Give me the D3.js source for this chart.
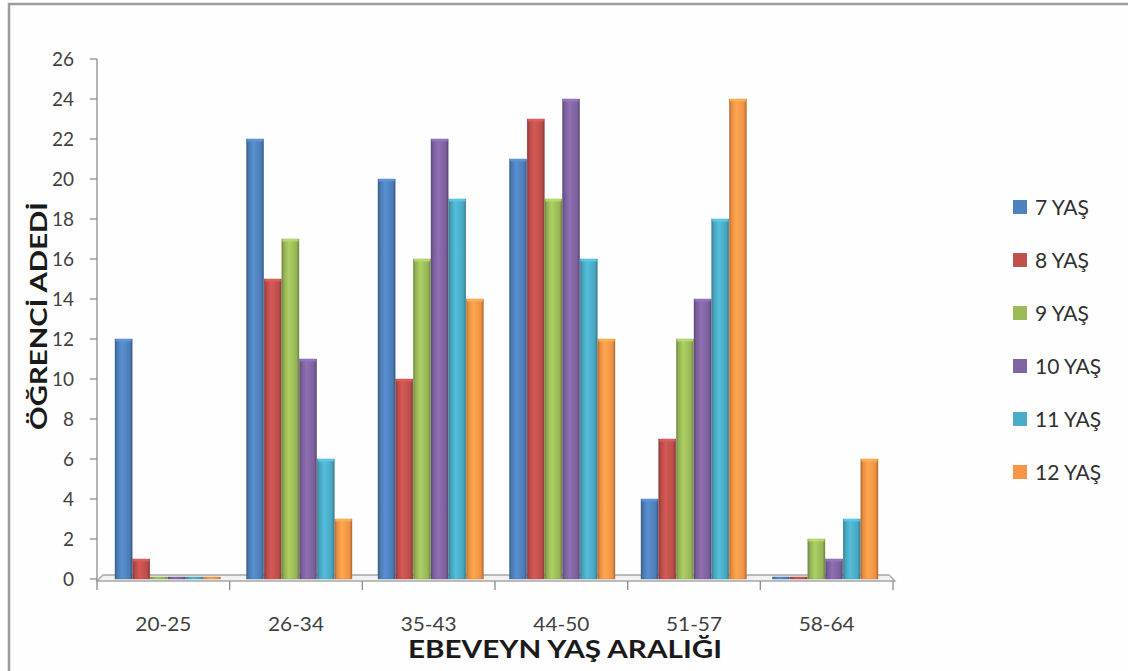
<!DOCTYPE html>
<html><head><meta charset="utf-8">
<script src="https://cdn.jsdelivr.net/npm/d3@7"></script>
<style>html,body{margin:0;padding:0;background:#fff;}svg{display:block;}</style>
</head><body>
<svg id="c" width="1128" height="671"></svg>
<script>
const categories = ["20-25","26-34","35-43","44-50","51-57","58-64"];
const seriesNames = ["7 YAŞ","8 YAŞ","9 YAŞ","10 YAŞ","11 YAŞ","12 YAŞ"];
const s7  = [12, 22, 20, 21, 4, 0];
const s8  = [1, 15, 10, 23, 7, 0];
const s9  = [0, 17, 16, 19, 12, 2];
const s10 = [0, 11, 22, 24, 14, 1];
const s11 = [0, 6, 19, 16, 18, 3];
const s12 = [0, 3, 14, 12, 24, 6];
const yTicks = [0,2,4,6,8,10,12,14,16,18,20,22,24,26];
const colors = ["#4f81bd","#c0504d","#9bbb59","#8064a2","#4bacc6","#f79646"];
const series = [s7,s8,s9,s10,s11,s12];

const svg = d3.select("#c");
const font = "Lato, 'Open Sans', sans-serif";

// outer frame
svg.append("rect").attr("x",9).attr("y",4).attr("width",1130).attr("height",680)
  .attr("fill","#fefefe").attr("stroke","#9c9c9c").attr("stroke-width",2.5);

const x = d3.scaleBand().domain(categories).range([97, 893]);
const xBars = d3.scaleBand().domain(categories).range([115, 115 + 6*131.5]);
const xInner = d3.scaleBand().domain(seriesNames).range([0, 106]);
const y = d3.scaleLinear().domain([0, 26]).range([579, 59]);

// gradients
const defs = svg.append("defs");
colors.forEach((c,i)=>{
  const g = defs.append("linearGradient").attr("id","g"+i).attr("x1","0").attr("x2","1").attr("y1","0").attr("y2","0");
  const base = d3.color(c);
  g.append("stop").attr("offset","0%").attr("stop-color", base.darker(1.0));
  g.append("stop").attr("offset","12%").attr("stop-color", base.darker(0.2));
  g.append("stop").attr("offset","40%").attr("stop-color", base.brighter(0.3));
  g.append("stop").attr("offset","85%").attr("stop-color", base.darker(0.1));
  g.append("stop").attr("offset","100%").attr("stop-color", base.darker(1.0));
});

// floor
const fl = 97, fr = 895, fb = 575, ff = 581;
svg.append("path")
  .attr("d", `M${fl},${ff} L${fl+6},${fb} L${fr-6},${fb} L${fr},${ff} Z`)
  .attr("fill","#f2f2f2").attr("stroke","#a6a6a6").attr("stroke-width",1.3);

// y axis
svg.append("line").attr("x1",97).attr("x2",97).attr("y1",y(26)).attr("y2",ff)
  .attr("stroke","#8c8c8c").attr("stroke-width",1.3);
const yt = svg.append("g");
yTicks.forEach(t=>{
  yt.append("line").attr("x1",90).attr("x2",97).attr("y1",y(t)).attr("y2",y(t))
    .attr("stroke","#8c8c8c").attr("stroke-width",1.3);
  yt.append("text").attr("x",74).attr("y",y(t)).attr("dy","0.36em")
    .attr("text-anchor","end").attr("font-family",font).attr("font-size",19)
    .attr("fill","#404040").text(t);
});

// x axis ticks
const bounds = categories.map(c=>x(c)).concat([x(categories[5])+x.bandwidth()]);
bounds.forEach(b=>{
  svg.append("line").attr("x1",b).attr("x2",b).attr("y1",ff).attr("y2",590)
    .attr("stroke","#8c8c8c").attr("stroke-width",1.3);
});
categories.forEach(c=>{
  svg.append("text").attr("x",x(c)+x.bandwidth()/2).attr("y",631)
    .attr("text-anchor","middle").attr("font-family",font).attr("font-size",20)
    .attr("textLength",56).attr("lengthAdjust","spacingAndGlyphs")
    .attr("fill","#404040").text(c);
});

// bars
series.forEach((s,i)=>{
  const g = svg.append("g");
  s.forEach((v,j)=>{
    const bx = xBars(categories[j]) + xInner(seriesNames[i]);
    const top = Math.min(y(v), y(0)-2);
    const h = y(0) - top;
    g.append("rect").attr("x",bx).attr("y",top).attr("width",xInner.bandwidth()-0.5).attr("height",h)
      .attr("fill","url(#g"+i+")").attr("stroke", d3.color(colors[i]).darker(0.6)).attr("stroke-width",0.4);
    if (v > 0) {
      g.append("rect").attr("x",bx+0.5).attr("y",top).attr("width",xInner.bandwidth()-1.5).attr("height",2.5)
        .attr("fill", d3.color(colors[i]).brighter(0.5)).attr("opacity",0.8);
    }
  });
});

// axis titles
svg.append("text").attr("x",565).attr("y",658).attr("text-anchor","middle")
  .attr("font-family",font).attr("font-weight","bold").attr("font-size",24)
  .attr("textLength",314).attr("lengthAdjust","spacingAndGlyphs")
  .attr("fill","#1a1a1a").text("EBEVEYN YAŞ ARALIĞI");
svg.append("text").attr("transform","translate(47,316) rotate(-90)").attr("text-anchor","middle")
  .attr("font-family",font).attr("font-weight","bold").attr("font-size",23)
  .attr("textLength",228).attr("lengthAdjust","spacingAndGlyphs")
  .attr("fill","#1a1a1a").text("ÖĞRENCİ ADEDİ");

// legend
const leg = svg.append("g");
seriesNames.forEach((n,i)=>{
  const ly = 207 + i*53;
  leg.append("rect").attr("x",1013).attr("y",ly-7).attr("width",14).attr("height",14).attr("fill",colors[i]);
  leg.append("text").attr("x",1035).attr("y",ly).attr("dy","0.36em")
    .attr("font-family",font).attr("font-size",21).attr("fill","#303030").text(n);
});
</script>
</body></html>
